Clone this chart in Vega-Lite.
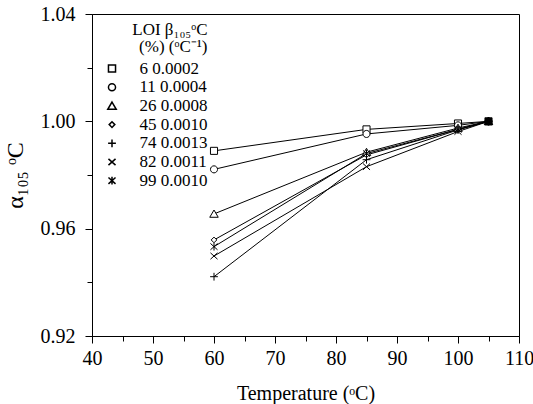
{
  "$schema": "https://vega.github.io/schema/vega-lite/v6.json",
  "width": 427,
  "height": 322,
  "autosize": "none",
  "padding": {"left": 92, "top": 14, "right": 14, "bottom": 68},
  "config": {
    "font": "Liberation Serif",
    "view": {"stroke": "black", "strokeWidth": 1},
    "axis": {
      "domainColor": "black",
      "domainWidth": 1,
      "grid": false,
      "tickColor": "black",
      "labelColor": "black",
      "titleColor": "black",
      "labelFont": "Liberation Serif",
      "titleFont": "Liberation Serif",
      "titleFontWeight": "normal",
      "tickWidth": 1
    }
  },
  "data": {
    "values": [
      {"LOI": 6, "T": 60, "a": 0.9890},
      {"LOI": 6, "T": 85, "a": 0.9970},
      {"LOI": 6, "T": 100, "a": 0.9992},
      {"LOI": 6, "T": 105, "a": 1.0},
      {"LOI": 11, "T": 60, "a": 0.9821},
      {"LOI": 11, "T": 85, "a": 0.9953},
      {"LOI": 11, "T": 100, "a": 0.9985},
      {"LOI": 11, "T": 105, "a": 1.0},
      {"LOI": 26, "T": 60, "a": 0.9655},
      {"LOI": 26, "T": 85, "a": 0.9885},
      {"LOI": 26, "T": 100, "a": 0.9975},
      {"LOI": 26, "T": 105, "a": 1.0},
      {"LOI": 45, "T": 60, "a": 0.9558},
      {"LOI": 45, "T": 85, "a": 0.9875},
      {"LOI": 45, "T": 100, "a": 0.9970},
      {"LOI": 45, "T": 105, "a": 1.0},
      {"LOI": 74, "T": 60, "a": 0.9421},
      {"LOI": 74, "T": 85, "a": 0.9857},
      {"LOI": 74, "T": 100, "a": 0.9968},
      {"LOI": 74, "T": 105, "a": 1.0},
      {"LOI": 82, "T": 60, "a": 0.9498},
      {"LOI": 82, "T": 85, "a": 0.9831},
      {"LOI": 82, "T": 100, "a": 0.9962},
      {"LOI": 82, "T": 105, "a": 1.0},
      {"LOI": 99, "T": 60, "a": 0.9533},
      {"LOI": 99, "T": 85, "a": 0.9880},
      {"LOI": 99, "T": 100, "a": 0.9970},
      {"LOI": 99, "T": 105, "a": 1.0}
    ]
  },
  "encoding": {
    "x": {
      "field": "T", "type": "quantitative",
      "scale": {"domain": [40, 110], "nice": false, "zero": false},
      "axis": {
        "orient": "bottom",
        "values": [40, 45, 50, 55, 60, 65, 70, 75, 80, 85, 90, 95, 100, 105, 110],
        "tickSize": {"condition": {"test": "datum.value % 10 == 0", "value": 7}, "value": 5},
        "labelExpr": "datum.value % 10 == 0 ? datum.label : ''",
        "labelFontSize": 20, "labelPadding": 5,
        "labelFlush": false, "labelOverlap": false,
        "title": "Temperature (ᵒC)", "titleFontSize": 20, "titlePadding": 15
      }
    },
    "y": {
      "field": "a", "type": "quantitative",
      "scale": {"domain": [0.92, 1.04], "nice": false, "zero": false},
      "axis": {
        "orient": "left",
        "values": [0.92, 0.94, 0.96, 0.98, 1.0, 1.02, 1.04],
        "format": ".2f",
        "tickSize": {"condition": {"test": "round(datum.value*100) % 4 == 0", "value": 7}, "value": 5},
        "labelExpr": "round(datum.value*100) % 4 == 0 ? datum.label : ''",
        "labelFontSize": 20, "labelPadding": 10,
        "labelFlush": false, "labelOverlap": false,
        "title": "α₁₀₅ ᵒC", "titleFontSize": 24, "titlePadding": 13
      }
    }
  },
  "layer": [
    {
      "mark": {"type": "line", "color": "black", "strokeWidth": 1},
      "encoding": {
        "detail": {"field": "LOI", "type": "nominal"},
        "order": {"field": "T", "type": "quantitative"}
      }
    },
    {
      "mark": {"type": "point", "filled": true, "stroke": "black", "strokeWidth": 1, "size": 50, "opacity": 1},
      "encoding": {
        "fill": {"condition": {"test": "datum.T == 105", "value": "black"}, "value": "white"},
        "shape": {
          "field": "LOI", "type": "nominal",
          "scale": {
            "domain": [6, 11, 26, 45, 74, 82, 99],
            "range": [
              "M-1,-1H1V1H-1Z",
              "M-1,0A1,1,0,1,0,1,0A1,1,0,1,0,-1,0Z",
              "M0,-1.1L1.2,0.95H-1.2Z",
              "M0,-0.8L0.8,0L0,0.8L-0.8,0Z",
              "M-1.1,0H1.1M0,-1.1V1.1",
              "M-1,-0.9L1,0.9M-1,0.9L1,-0.9",
              "M-1,-0.9L1,0.9M-1,0.9L1,-0.9M0,-1.1V1.1"
            ]
          },
          "legend": {
            "orient": "none",
            "legendX": 11.5,
            "legendY": 8,
            "title": ["LOI β₁₀₅ᵒC", "(%) (ᵒC⁻¹)"],
            "titleAnchor": "end",
            "titleAlign": "right",
            "titleFont": "Liberation Serif",
            "titleColor": "black",
            "titleFontSize": 17,
            "titleFontWeight": "normal",
            "titleLineHeight": 17,
            "titlePadding": 4,
            "labelFont": "Liberation Serif",
            "labelColor": "black",
            "labelFontSize": 17,
            "labelOffset": 19,
            "labelLimit": 300,
            "rowPadding": 0.7,
            "symbolSize": 50,
            "labelExpr": "{'6':'6 0.0002','11':'11 0.0004','26':'26 0.0008','45':'45 0.0010','74':'74 0.0013','82':'82 0.0011','99':'99 0.0010'}[datum.label]",
            "encode": {
              "symbols": {
                "update": {
                  "fill": {"value": "white"},
                  "stroke": {"value": "black"},
                  "strokeWidth": {"value": 1}
                }
              }
            }
          }
        }
      }
    }
  ]
}
